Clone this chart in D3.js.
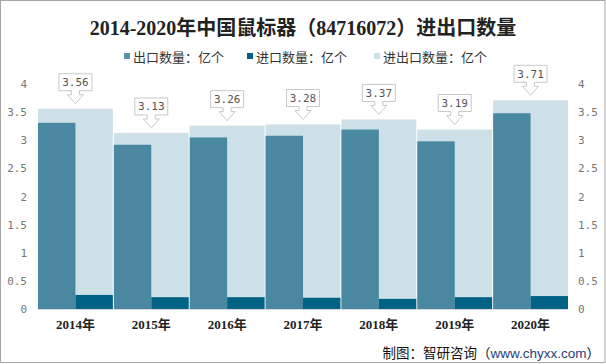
<!DOCTYPE html>
<html><head><meta charset="utf-8">
<script src="https://cdn.jsdelivr.net/npm/d3@7"></script>
<style>
html,body{margin:0;padding:0;background:#fff;}
svg{display:block;}
</style></head>
<body>
<script>
const years = ["2014年","2015年","2016年","2017年","2018年","2019年","2020年"];
const exportVals = [3.31,2.92,3.05,3.08,3.19,2.98,3.48];
const importVals = [0.25,0.21,0.21,0.20,0.18,0.21,0.23];
const totalVals = [3.56,3.13,3.26,3.28,3.37,3.19,3.71];
const yTicks = [0,0.5,1,1.5,2,2.5,3,3.5,4];
const seriesNames = ["出口数量：亿个","进口数量：亿个","进出口数量：亿个"];
const colors = ["#4a87a0","#006385","#cde0e7"];

const W=606,H=364;
const svg=d3.select("body").append("svg").attr("width",W).attr("height",H);
svg.append("rect").attr("x",0.5).attr("y",0.5).attr("width",W-1.5).attr("height",H-2).attr("fill","#fff").attr("stroke","#a6a6a6");

const x=d3.scaleBand().domain(years).range([37.5,568.5]).padding(0);
const y=d3.scaleLinear().domain([0,4]).range([309,84]);
const tickFont="'DejaVu Sans Mono','Liberation Mono',monospace";

// title
svg.append("text").attr("x",303).attr("y",35).attr("text-anchor","middle")
  .attr("font-family","'Liberation Serif','Noto Sans CJK SC',serif").attr("font-weight","bold")
  .attr("font-size",20).attr("fill","#222").text("2014-2020年中国鼠标器（84716072）进出口数量");

// legend
const legX=[124,247,374];
seriesNames.forEach((n,i)=>{
  const g=svg.append("g").attr("transform",`translate(${legX[i]},57)`);
  g.append("rect").attr("x",0).attr("y",-4).attr("width",6).attr("height",6).attr("fill",i==0?"#5a91aa":colors[i]);
  g.append("text").attr("x",9).attr("y",4.5).attr("font-family","'Noto Sans CJK SC',sans-serif").attr("font-size",13).attr("fill","#333").text(n);
});

// total bars
svg.append("g").selectAll("rect").data(years).join("rect")
  .attr("x",d=>x(d)+0.5).attr("width",x.bandwidth()-1)
  .attr("y",(d,i)=>y(totalVals[i])).attr("height",(d,i)=>y(0)-y(totalVals[i]))
  .attr("fill",colors[2]);
// export bars
svg.append("g").selectAll("rect").data(years).join("rect")
  .attr("x",d=>x(d)+0.5).attr("width",x.bandwidth()/2-0.5)
  .attr("y",(d,i)=>y(exportVals[i])).attr("height",(d,i)=>y(0)-y(exportVals[i]))
  .attr("fill",colors[0]);
// import bars
svg.append("g").selectAll("rect").data(years).join("rect")
  .attr("x",d=>x(d)+x.bandwidth()/2).attr("width",x.bandwidth()/2-0.5)
  .attr("y",(d,i)=>y(importVals[i])).attr("height",(d,i)=>y(0)-y(importVals[i]))
  .attr("fill",colors[1]);

// baseline
svg.append("line").attr("x1",37.5).attr("x2",568.5).attr("y1",309.5).attr("y2",309.5).attr("stroke","#d9d9d9");

// axes
const yl=d3.axisLeft(y).tickValues(yTicks).tickSize(0).tickPadding(0).tickFormat(d3.format("~g"));
const gl=svg.append("g").attr("transform","translate(27,0)").call(yl);
const yr=d3.axisRight(y).tickValues(yTicks).tickSize(0).tickPadding(0).tickFormat(d3.format("~g"));
const gr=svg.append("g").attr("transform","translate(578,0)").call(yr);
[gl,gr].forEach(g=>{g.select(".domain").remove();
  g.selectAll("text").attr("font-family",tickFont).attr("font-size",11).attr("fill","#777");});

const xa=d3.axisBottom(x).tickSize(0).tickPadding(10);
const gx=svg.append("g").attr("transform","translate(0,310)").call(xa);
gx.select(".domain").remove();
gx.selectAll("text").attr("font-family","'Liberation Serif','Noto Sans CJK SC',serif").attr("font-weight","bold").attr("font-size",13).attr("fill","#222");

// callout labels
const lab=svg.append("g");
years.forEach((d,i)=>{
  const cx=x(d)+x.bandwidth()/2, tip=y(totalVals[i])-5;
  const bb=tip-13, bt=bb-17, hw=16.5;
  const path=`M${cx-hw},${bt}H${cx+hw}V${bb}H${cx+4}V${bb+4}H${cx+8}L${cx},${tip}L${cx-8},${bb+4}H${cx-4}V${bb}H${cx-hw}Z`;
  lab.append("path").attr("d",path).attr("fill","#fff").attr("stroke","#c8c8c8").attr("stroke-width",1);
  lab.append("text").attr("x",cx).attr("y",bt+12.5).attr("text-anchor","middle")
    .attr("font-family",tickFont).attr("font-size",11).attr("fill","#555").text(d3.format(".2f")(totalVals[i]));
});

// footer
const ft=svg.append("text").attr("x",600).attr("y",358).attr("text-anchor","end")
  .attr("font-family","'Noto Sans CJK SC',sans-serif").attr("font-size",13.5).attr("fill","#111");
ft.append("tspan").text("制图：智研咨询（");
ft.append("tspan").attr("fill","#1f3e78").attr("font-family","'Liberation Sans',Arial,sans-serif").text("www.chyxx.com");
ft.append("tspan").text("）");
</script>
</body></html>
